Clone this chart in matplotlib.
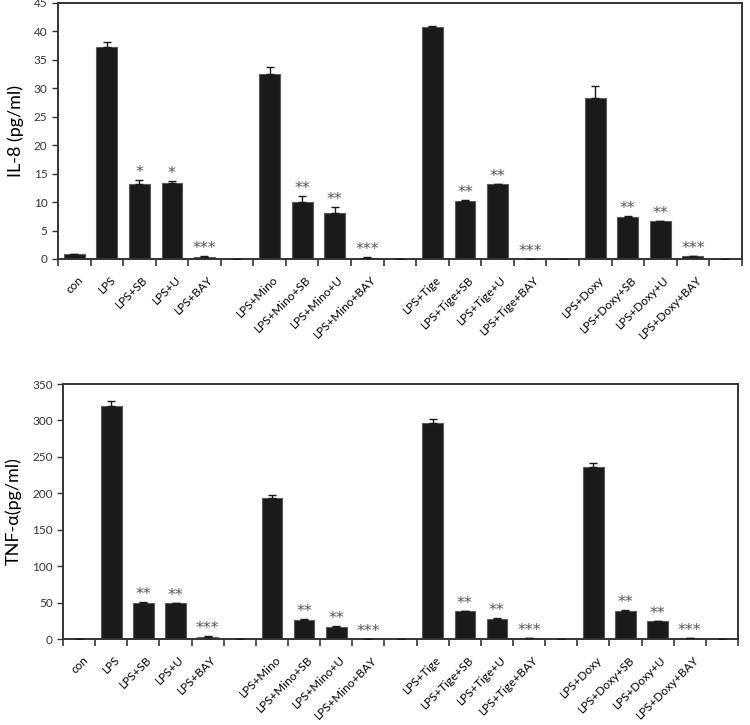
import matplotlib.pyplot as plt
import matplotlib.transforms as mtransforms
import numpy as np

# categories (empty strings are the gaps between groups)
labels = ["con", "LPS", "LPS+SB", "LPS+U", "LPS+BAY", "",
          "LPS+Mino", "LPS+Mino+SB", "LPS+Mino+U", "LPS+Mino+BAY", "",
          "LPS+Tige", "LPS+Tige+SB", "LPS+Tige+U", "LPS+Tige+BAY", "",
          "LPS+Doxy", "LPS+Doxy+SB", "LPS+Doxy+U", "LPS+Doxy+BAY", ""]

nan = np.nan
il8 = [0.8, 37.3, 13.2, 13.4, 0.35, nan,
       32.6, 10.05, 8.1, 0.25, nan,
       40.8, 10.2, 13.15, 0.0, nan,
       28.3, 7.4, 6.6, 0.45, nan]
il8_err = [0.0, 0.9, 0.7, 0.3, 0.1, nan,
           1.2, 1.0, 1.1, 0.1, nan,
           0.1, 0.1, 0.0, 0.0, nan,
           2.1, 0.2, 0.1, 0.0, nan]
il8_sig = ["", "", "*", "*", "***", "",
           "", "**", "**", "***", "",
           "", "**", "**", "***", "",
           "", "**", "**", "***", ""]

tnf = [0.0, 320, 49.8, 48.9, 2.7, nan,
       194, 26, 16.4, 0.0, nan,
       296.5, 38.4, 27.9, 1.4, nan,
       236, 38.4, 24.2, 1.4, nan]
tnf_err = [0.0, 7, 0.5, 0.5, 1.0, nan,
           3, 1.0, 1.0, 0.0, nan,
           6, 0.5, 0.5, 0.3, nan,
           5, 1.0, 0.5, 0.3, nan]
tnf_sig = ["", "", "**", "**", "***", "",
           "", "**", "**", "***", "",
           "", "**", "**", "***", "",
           "", "**", "**", "***", ""]

FONT = "Lato"


def draw_panel(ax, vals, errs, sigs, ymax, ystep, ylabel):
    x = np.arange(len(labels))
    v = np.nan_to_num(np.array(vals, dtype=float))
    e = np.nan_to_num(np.array(errs, dtype=float))
    ax.bar(x, v, width=0.64, color="#1a1a1a", edgecolor="#5a5a5a", linewidth=0.8, zorder=2)
    ax.errorbar(x, v, yerr=[np.zeros_like(e), e], fmt="none", ecolor="#1a1a1a",
                elinewidth=1.0, capsize=3, capthick=1.0, zorder=3)
    for xi, vi, ei, s in zip(x, v, e, sigs):
        if s:
            ax.annotate(s, xy=(xi, vi + ei), xytext=(0, 0), textcoords="offset points",
                        ha="center", va="bottom", fontsize=11.5, color="#555555",
                        family="DejaVu Sans")
    ax.set_xlim(-0.5, len(labels) - 0.5)
    ax.set_ylim(0, ymax)
    ax.set_yticks(np.arange(0, ymax + 0.1, ystep))
    ax.set_xticks(x)
    ax.set_xticklabels(labels, rotation=45, ha="right", rotation_mode="anchor",
                       fontsize=8.5, family=FONT)
    ax.set_xticks(np.arange(-0.5, len(labels), 1.0), minor=True)
    ax.tick_params(axis="x", which="major", length=0, pad=11)
    ax.tick_params(axis="x", which="minor", length=5, width=1.2, direction="out", color="#333333")
    ax.tick_params(axis="y", length=4, width=1.0, direction="out", color="#333333",
                   labelsize=8.5, labelcolor="#333333")
    for lab in ax.get_yticklabels():
        lab.set_family(FONT)
    offset = mtransforms.ScaledTranslation(3 / 100, 0, ax.figure.dpi_scale_trans)
    for lab in ax.get_xticklabels():
        lab.set_transform(lab.get_transform() + offset)
    for sp in ax.spines.values():
        sp.set_linewidth(1.4)
        sp.set_color("#333333")
    ax.set_ylabel(ylabel, fontsize=13, family=FONT, labelpad=7)


fig = plt.figure(figsize=(7.5, 7.25), dpi=100)
ax1 = fig.add_axes([0.0773, 0.6428, 0.9117, 0.3531])
ax2 = fig.add_axes([0.084, 0.1186, 0.900, 0.3517])

draw_panel(ax1, il8, il8_err, il8_sig, 45, 5, "IL-8 (pg/ml)")
draw_panel(ax2, tnf, tnf_err, tnf_sig, 350, 50, "TNF-α(pg/ml)")

fig.savefig("out.png", dpi=100)
